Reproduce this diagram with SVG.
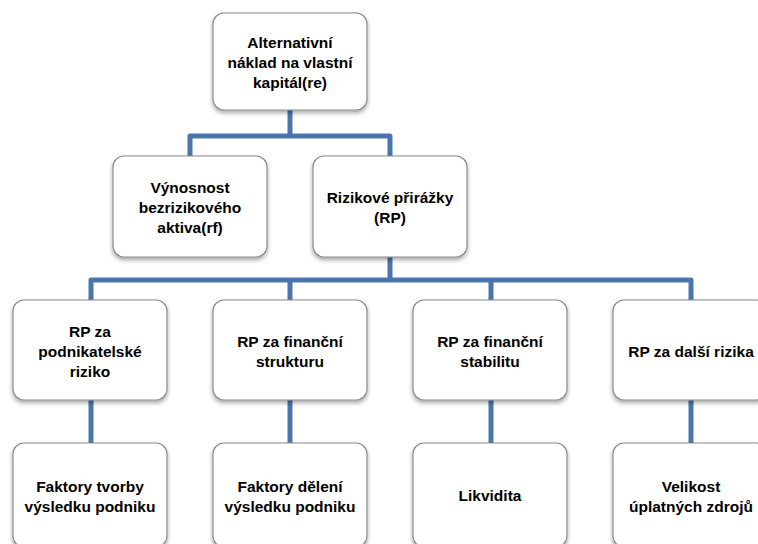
<svg xmlns="http://www.w3.org/2000/svg" width="758" height="544" viewBox="0 0 758 544">
  <defs>
    <filter id="shadow" x="-10%" y="-10%" width="120%" height="130%">
      <feDropShadow dx="0" dy="2.5" stdDeviation="2" flood-color="#000" flood-opacity="0.35"/>
    </filter>
  </defs>
  <style>
    .box { fill: #ffffff; stroke: #8c8c8c; stroke-width: 1.2; filter: url(#shadow); }
    .label { font-family: "Liberation Sans", Arial, sans-serif; font-weight: bold; font-size: 15.5px; fill: #000; text-anchor: middle; }
    .link { fill: none; stroke: #4a76ad; stroke-width: 5; stroke-linejoin: round; }
  </style>
  <rect width="758" height="544" fill="#ffffff"/>

  <!-- connectors -->
  <g id="connectors">
    <path class="link" d="M290,110 V136"/>
    <path class="link" d="M190,157 V136 H390 V157"/>
    <path class="link" d="M390,257 V280"/>
    <path class="link" d="M91,301 V280 H691 V301"/>
    <path class="link" d="M290,280 V301"/>
    <path class="link" d="M491,280 V301"/>
    <path class="link" d="M91,400 V444"/>
    <path class="link" d="M290,400 V444"/>
    <path class="link" d="M491,400 V444"/>
    <path class="link" d="M691,400 V444"/>
  </g>

  <!-- level 1 -->
  <g id="n-alternativni">
    <rect class="box" x="213" y="13" width="154" height="97" rx="11"/>
    <text class="label" x="290" y="48">Alternativní</text>
    <text class="label" x="290" y="68">náklad na vlastní</text>
    <text class="label" x="290" y="88">kapitál(re)</text>
  </g>

  <!-- level 2 -->
  <g id="n-vynosnost">
    <rect class="box" x="113" y="156" width="154" height="101" rx="11"/>
    <text class="label" x="190" y="193">Výnosnost</text>
    <text class="label" x="190" y="213">bezrizikového</text>
    <text class="label" x="190" y="233">aktiva(rf)</text>
  </g>
  <g id="n-rizikove">
    <rect class="box" x="313" y="156" width="154" height="101" rx="11"/>
    <text class="label" x="390" y="203">Rizikové přirážky</text>
    <text class="label" x="390" y="223">(RP)</text>
  </g>

  <!-- level 3 -->
  <g id="n-rp-podnikatelske">
    <rect class="box" x="13" y="300" width="154" height="100" rx="11"/>
    <text class="label" x="90" y="336.5">RP za</text>
    <text class="label" x="90" y="356.5">podnikatelské</text>
    <text class="label" x="90" y="376.5">riziko</text>
  </g>
  <g id="n-rp-struktura">
    <rect class="box" x="213" y="300" width="154" height="100" rx="11"/>
    <text class="label" x="290" y="346.5">RP za finanční</text>
    <text class="label" x="290" y="366.5">strukturu</text>
  </g>
  <g id="n-rp-stabilita">
    <rect class="box" x="413" y="300" width="154" height="100" rx="11"/>
    <text class="label" x="490" y="346.5">RP za finanční</text>
    <text class="label" x="490" y="366.5">stabilitu</text>
  </g>
  <g id="n-rp-dalsi">
    <rect class="box" x="613" y="300" width="154" height="100" rx="11"/>
    <text class="label" x="691" y="356.5">RP za další rizika</text>
  </g>

  <!-- level 4 -->
  <g id="n-faktory-tvorby">
    <rect class="box" x="13" y="443" width="154" height="104" rx="11"/>
    <text class="label" x="90" y="491.5">Faktory tvorby</text>
    <text class="label" x="90" y="511.5">výsledku podniku</text>
  </g>
  <g id="n-faktory-deleni">
    <rect class="box" x="213" y="443" width="154" height="104" rx="11"/>
    <text class="label" x="290" y="491.5">Faktory dělení</text>
    <text class="label" x="290" y="511.5">výsledku podniku</text>
  </g>
  <g id="n-likvidita">
    <rect class="box" x="413" y="443" width="154" height="104" rx="11"/>
    <text class="label" x="490" y="501">Likvidita</text>
  </g>
  <g id="n-velikost">
    <rect class="box" x="613" y="443" width="154" height="104" rx="11"/>
    <text class="label" x="691" y="491.5">Velikost</text>
    <text class="label" x="691" y="511.5">úplatných zdrojů</text>
  </g>
</svg>
